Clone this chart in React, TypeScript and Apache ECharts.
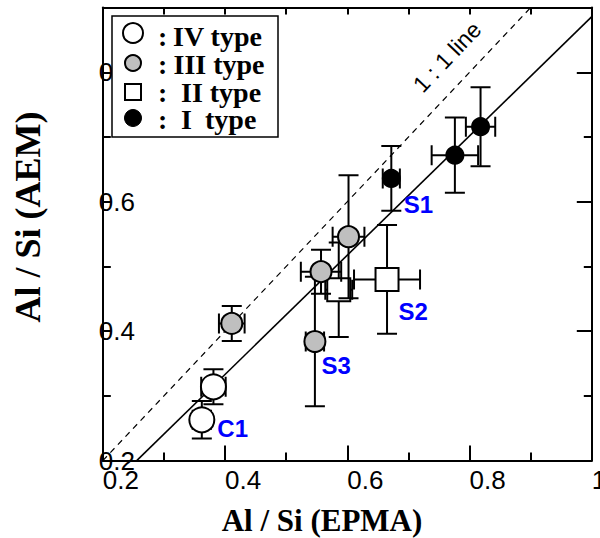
import React, { useEffect, useRef } from 'react';
import * as echarts from 'echarts';

// Tick labels
const xTickLabels = ['0.2', '0.4', '0.6', '0.8', '1'];
const yTickLabels = ['0.2', '0.4', '0.6', '0.8'];

// Each point: [Al/Si EPMA, Al/Si AEM, error EPMA, error AEM]
const typeIV = [
  [0.362, 0.263, 0.015, 0.029],
  [0.381, 0.314, 0.02, 0.027],
];
const typeIVNames = ['C1', ''];

const typeIII = [
  [0.411, 0.412, 0.021, 0.027],
  [0.547, 0.384, 0.015, 0.1],
  [0.557, 0.492, 0.033, 0.034],
  [0.602, 0.546, 0.026, 0.095],
];
const typeIIINames = ['', 'S3', '', ''];

const typeII = [
  [0.586, 0.464, 0.022, 0.073],
  [0.665, 0.48, 0.054, 0.084],
];
const typeIINames = ['', 'S2'];

const typeI = [
  [0.672, 0.636, 0.014, 0.05],
  [0.776, 0.672, 0.038, 0.058],
  [0.818, 0.716, 0.024, 0.061],
];
const typeINames = ['S1', '', ''];

const oneToOneLine = [[0.2, 0.2], [0.9, 0.9]];
const fitLine = [[0.2555, 0.2], [1.0, 0.886]];

const legendItems = ['IV type', 'III type', 'II type', 'I type'];

// label placement (style only)
const labelOffsets: Record<string, number[]> = {
  S1: [3, 26],
  S2: [-1, 32],
  S3: [-5, 24],
  C1: [2, 8.5],
};

const LBL_FONT = 'Liberation Sans';
const SERIF = 'Liberation Serif';

function renderErr(params: any, api: any) {
  const x = api.value(0), y = api.value(1), ex = api.value(2), ey = api.value(3);
  const c = api.coord([x, y]);
  const l = api.coord([x - ex, y]);
  const r = api.coord([x + ex, y]);
  const t = api.coord([x, y + ey]);
  const b = api.coord([x, y - ey]);
  const cap = 10;
  const style = { stroke: '#000', lineWidth: 2, fill: null };
  return {
    type: 'group',
    children: [
      { type: 'line', shape: { x1: l[0], y1: c[1], x2: r[0], y2: c[1] }, style },
      { type: 'line', shape: { x1: c[0], y1: t[1], x2: c[0], y2: b[1] }, style },
      { type: 'line', shape: { x1: l[0], y1: c[1] - cap, x2: l[0], y2: c[1] + cap }, style },
      { type: 'line', shape: { x1: r[0], y1: c[1] - cap, x2: r[0], y2: c[1] + cap }, style },
      { type: 'line', shape: { x1: c[0] - cap, y1: t[1], x2: c[0] + cap, y2: t[1] }, style },
      { type: 'line', shape: { x1: c[0] - cap, y1: b[1], x2: c[0] + cap, y2: b[1] }, style },
    ],
  };
}

function scatterData(rows: number[][], names: string[]) {
  return rows.map((row, i) => {
    const name = names[i];
    const item: any = { value: [row[0], row[1]], name };
    if (name) {
      item.label = {
        show: true,
        formatter: name,
        position: 'right',
        distance: 0,
        offset: labelOffsets[name],
        color: '#0000ff',
        fontSize: 24,
        fontWeight: 'bold',
        fontFamily: LBL_FONT,
      };
    }
    return item;
  });
}

function errSeries(rows: number[][], z: number) {
  return {
    type: 'custom',
    renderItem: renderErr,
    data: rows,
    encode: { x: 0, y: 1 },
    z,
    silent: true,
    clip: true,
  };
}

function scatterSeries(rows: number[][], names: string[], symbol: string, size: number, color: string, z: number) {
  return {
    type: 'scatter',
    data: scatterData(rows, names),
    symbol,
    symbolSize: size,
    itemStyle: { color, borderColor: '#000', borderWidth: 2, opacity: 1 },
    z,
    silent: true,
  };
}

function tickLabel(labels: string[], v: number) {
  const k = (v - 0.2) / 0.2;
  const i = Math.round(k);
  if (Math.abs(k - i) > 0.01) return '';
  return labels[i] ?? '';
}

export default function App() {
  const ref = useRef<HTMLDivElement>(null);

  useEffect(() => {
    if (!ref.current) return;
    const chart = echarts.init(ref.current, undefined, { renderer: 'svg' });

    const axisLine = { show: true, onZero: false, lineStyle: { color: '#000', width: 2 } };
    const xFmt = (v: number) => tickLabel(xTickLabels, v);
    const yFmt = (v: number) => tickLabel(yTickLabels, v);

    const legendRows = [33, 63, 92, 118];
    const textRows = [36, 64, 92.5, 119];
    const Z = 100;
    const legendText = (text: string, x: number, y: number) => ({
      type: 'text',
      x,
      y,
      z: Z + 1,
      style: {
        text,
        font: `bold 28px "${SERIF}"`,
        fill: '#000',
        align: 'left',
        verticalAlign: 'middle',
        textAlign: 'left',
        textVerticalAlign: 'middle',
      },
    });

    const option: any = {
      animation: false,
      backgroundColor: '#fff',
      grid: {
        left: 102.8,
        top: 7.6,
        width: 489,
        height: 453,
        containLabel: false,
        outerBoundsMode: 'none',
      },
      xAxis: [
        {
          type: 'value',
          position: 'bottom',
          min: 0.2,
          max: 1.0,
          interval: 0.2,
          axisLine,
          axisTick: { show: true, inside: true, length: 15, lineStyle: { color: '#000', width: 2 } },
          minorTick: { show: true, splitNumber: 2, length: 8, lineStyle: { color: '#000', width: 2 } },
          splitLine: { show: false },
          axisLabel: {
            formatter: xFmt,
            align: 'left',
            margin: 6,
            fontSize: 26,
            color: '#000',
            fontFamily: LBL_FONT,
            showMinLabel: true,
            showMaxLabel: true,
            hideOverlap: false,
          },
        },
        {
          type: 'value',
          position: 'top',
          min: 0.2,
          max: 1.0,
          interval: 0.2,
          axisLine,
          axisTick: { show: true, inside: true, length: 7, lineStyle: { color: '#000', width: 2 } },
          minorTick: { show: true, splitNumber: 2, length: 7, lineStyle: { color: '#000', width: 2 } },
          splitLine: { show: false },
          axisLabel: { show: false },
        },
      ],
      yAxis: [
        {
          type: 'value',
          position: 'left',
          min: 0.2,
          max: 0.9,
          interval: 0.2,
          axisLine,
          axisTick: { show: true, inside: true, length: 8, lineStyle: { color: '#000', width: 2 } },
          minorTick: { show: true, splitNumber: 2, length: 8, lineStyle: { color: '#000', width: 2 } },
          splitLine: { show: false },
          axisLabel: {
            inside: true,
            formatter: yFmt,
            margin: -4,
            fontSize: 26,
            color: '#000',
            fontFamily: LBL_FONT,
            showMinLabel: true,
            showMaxLabel: true,
            hideOverlap: false,
          },
        },
        {
          type: 'value',
          position: 'right',
          min: 0.2,
          max: 0.9,
          interval: 0.2,
          axisLine,
          axisTick: { show: true, inside: true, length: 15, lineStyle: { color: '#000', width: 2 } },
          minorTick: { show: true, splitNumber: 2, length: 8, lineStyle: { color: '#000', width: 2 } },
          splitLine: { show: false },
          axisLabel: { show: false },
        },
      ],
      series: [
        {
          type: 'line',
          data: oneToOneLine,
          symbol: 'none',
          lineStyle: { color: '#000', width: 1.2, type: [6, 5] },
          z: 1,
          silent: true,
        },
        {
          type: 'line',
          data: fitLine,
          symbol: 'none',
          lineStyle: { color: '#000', width: 1.6 },
          z: 1,
          silent: true,
        },
        errSeries(typeII, 2),
        scatterSeries(typeII, typeIINames, 'rect', 23, '#ffffff', 3),
        errSeries(typeIV, 4),
        errSeries(typeIII, 4),
        errSeries(typeI, 4),
        scatterSeries(typeIV, typeIVNames, 'circle', 25, '#ffffff', 5),
        scatterSeries(typeIII, typeIIINames, 'circle', 21, '#bfbfbf', 5),
        scatterSeries(typeI, typeINames, 'circle', 17, '#000000', 5),
      ],
      graphic: [
        {
          type: 'text',
          x: 447,
          y: 57,
          rotation: (46.6 * Math.PI) / 180,
          z: 50,
          style: {
            text: '1 : 1 line',
            font: `23px "${LBL_FONT}"`,
            fill: '#000',
            align: 'center',
            verticalAlign: 'middle',
            textAlign: 'center',
            textVerticalAlign: 'middle',
          },
        },
        {
          type: 'text',
          x: 322,
          y: 520,
          z: 50,
          style: {
            text: 'Al / Si (EPMA)',
            font: `bold 31px "${SERIF}"`,
            fill: '#000',
            align: 'center',
            verticalAlign: 'middle',
            textAlign: 'center',
            textVerticalAlign: 'middle',
          },
        },
        {
          type: 'text',
          x: 28,
          y: 217,
          rotation: Math.PI / 2,
          z: 50,
          style: {
            text: 'Al / Si (AEM)',
            font: `bold 36px "${SERIF}"`,
            fill: '#000',
            align: 'center',
            verticalAlign: 'middle',
            textAlign: 'center',
            textVerticalAlign: 'middle',
          },
        },
        {
          type: 'rect',
          z: Z,
          shape: { x: 112, y: 16, width: 166, height: 121 },
          style: { fill: '#fff', stroke: '#000', lineWidth: 1.5 },
        },
        { type: 'circle', z: Z + 1, shape: { cx: 133, cy: legendRows[0], r: 10 }, style: { fill: '#fff', stroke: '#000', lineWidth: 2 } },
        { type: 'circle', z: Z + 1, shape: { cx: 133, cy: legendRows[1], r: 8 }, style: { fill: '#bfbfbf', stroke: '#000', lineWidth: 2 } },
        { type: 'rect', z: Z + 1, shape: { x: 125, y: legendRows[2] - 8, width: 16, height: 16 }, style: { fill: '#fff', stroke: '#000', lineWidth: 2 } },
        { type: 'circle', z: Z + 1, shape: { cx: 133, cy: legendRows[3], r: 8.5 }, style: { fill: '#000', stroke: '#000', lineWidth: 1 } },
        ...textRows.map((ty) => legendText(':', 158, ty)),
        legendText(legendItems[0], 173, textRows[0]),
        legendText(legendItems[1], 173.5, textRows[1]),
        legendText(legendItems[2], 181, textRows[2]),
        legendText(legendItems[3].split(' ')[0], 181, textRows[3]),
        legendText(legendItems[3].split(' ')[1], 205, textRows[3]),
      ],
    };

    chart.setOption(option);
    return () => chart.dispose();
  }, []);

  return (
    <div
      ref={ref}
      style={{ position: 'fixed', left: 0, top: 0, width: 600, height: 538, background: '#fff' }}
    />
  );
}
